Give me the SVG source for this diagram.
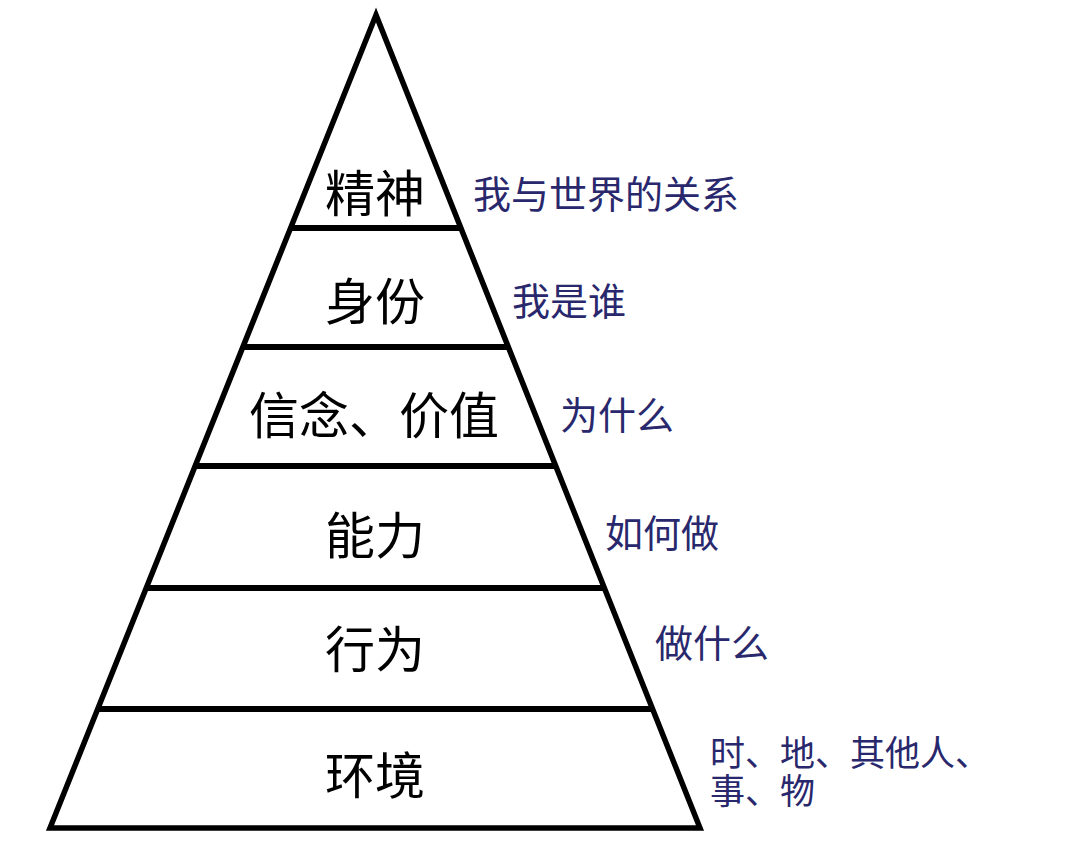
<svg xmlns="http://www.w3.org/2000/svg" width="1067" height="844" viewBox="0 0 1067 844">
<style>
.band{stroke:#000;stroke-width:6;fill:none}
.tier{font-family:"Noto Sans CJK SC","Noto Sans",sans-serif;font-size:50px;fill:#000;text-anchor:middle;dominant-baseline:central}
.note{font-family:"Noto Sans CJK SC","Noto Sans",sans-serif;font-size:38px;fill:#29286d;dominant-baseline:central}
.small{font-size:35px}
</style>
<rect width="1067" height="844" fill="#fff"/>
<g id="pyramid">
<polygon points="376,15 50,828 700,828" fill="#fff" stroke="#000" stroke-width="5.5" stroke-linejoin="miter" stroke-miterlimit="20"/>
</g>
<g id="connectors">
<line class="band" x1="290" y1="228" x2="461" y2="228"/>
<line class="band" x1="243" y1="347" x2="508" y2="347"/>
<line class="band" x1="195" y1="466" x2="556" y2="466"/>
<line class="band" x1="146" y1="588" x2="604" y2="588"/>
<line class="band" x1="98" y1="709" x2="653" y2="709"/>
</g>
<g id="n-spirit"><text class="tier" x="375" y="190">精神</text><text class="note" x="473" y="191">我与世界的关系</text></g>
<g id="n-identity"><text class="tier" x="375" y="298">身份</text><text class="note" x="512" y="298">我是谁</text></g>
<g id="n-belief"><text class="tier" x="374" y="412">信念、价值</text><text class="note" x="560" y="412">为什么</text></g>
<g id="n-ability"><text class="tier" x="375" y="532">能力</text><text class="note" x="605" y="530">如何做</text></g>
<g id="n-behavior"><text class="tier" x="375" y="646">行为</text><text class="note" x="655" y="640">做什么</text></g>
<g id="n-environment"><text class="tier" x="375" y="772">环境</text><text class="note small"><tspan x="710" y="750">时、地、其他人、</tspan><tspan x="710" y="788">事、物</tspan></text></g>
</svg>
